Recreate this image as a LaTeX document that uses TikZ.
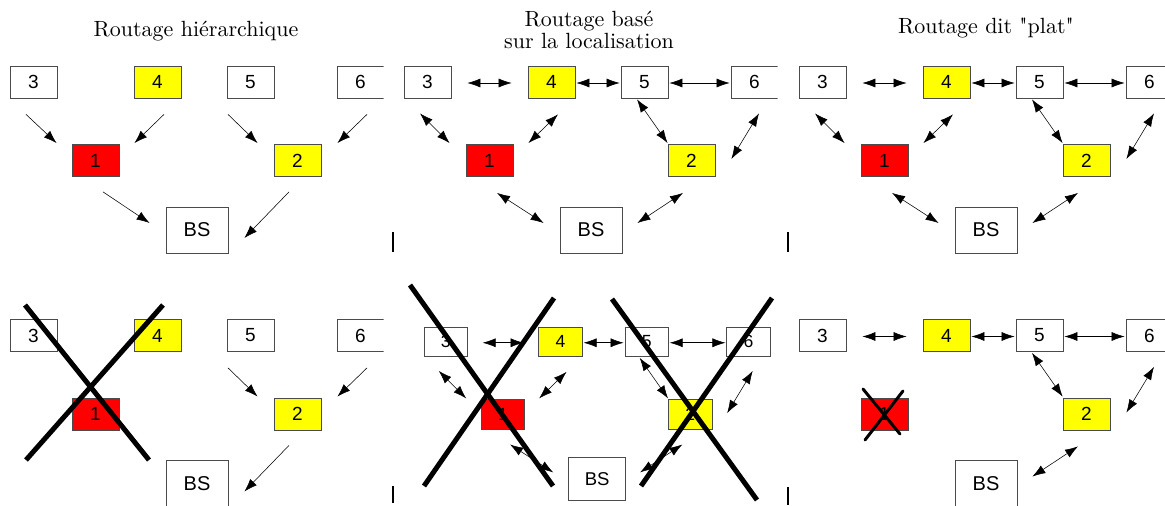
\documentclass[tikz,border=0pt]{standalone}
\usepackage{fontspec}
\newfontfamily\boxfont{Liberation Sans}
\newfontfamily\headfont{lmroman10-regular}[Extension=.otf]
\usetikzlibrary{arrows.meta,calc}

\definecolor{nodeyellow}{RGB}{255,255,0}
\definecolor{nodered}{RGB}{255,0,0}
\definecolor{boxedge}{RGB}{75,75,75}

\tikzset{
  box/.style={draw=boxedge, line width=0.8pt, minimum width=47pt, minimum height=32pt,
    inner sep=0pt, font=\boxfont\fontsize{19}{19}\selectfont},
  wbox/.style={box, fill=white},
  ybox/.style={box, fill=nodeyellow},
  rbox/.style={box, fill=nodered},
  bsbox/.style={box, fill=white, minimum width=62pt, minimum height=46pt,
    font=\boxfont\fontsize{20}{20}\selectfont},
  arr/.style={-{Latex[length=13pt,width=9pt]}, line width=0.55pt, draw=black},
  darr/.style={{Latex[length=13pt,width=9pt]}-{Latex[length=13pt,width=9pt]}, line width=0.55pt, draw=black},
  bigcross/.style={line width=5pt, black},
  smallcross/.style={line width=3pt, black, line cap=round},
  heading/.style={font=\headfont\fontsize{22}{22}\selectfont, anchor=base, inner sep=0pt},
  tick/.style={line width=2pt, black}
}

% the seven nodes of one network, named <prefix>-<label>
\newcommand\netnodes[1]{%
  \node[wbox] (#1-3) at (33.5,82) {3};
  \node[ybox] (#1-4) at (157.5,82) {4};
  \node[wbox] (#1-5) at (250.5,82) {5};
  \node[wbox] (#1-6) at (360.5,82) {6};
  \node[rbox] (#1-1) at (95.5,160.5) {1};
  \node[ybox] (#1-2) at (297.5,160.5) {2};
  \node[bsbox] (#1-bs) at (197,230) {BS};
}
% connector between two node anchors, each with a small offset
\newcommand\link[5]{\draw[#1] ($(#2)+(#3)$) -- ($(#4)+(#5)$);}

% hierarchical links
\newcommand\hierleft[1]{%
  \link{arr}{#1-3.south}{-7.5,16}{#1-1.north west}{-15,-1}
  \link{arr}{#1-4.south}{6.5,16}{#1-1.north east}{15,-1}
  \link{arr}{#1-1.south}{7.5,15}{#1-bs.west}{-16,-7}
}
\newcommand\hierright[1]{%
  \link{arr}{#1-5.south}{-22.5,16}{#1-2.north west}{-16,-1}
  \link{arr}{#1-6.south}{6.5,16}{#1-2.north east}{16,-1}
  \link{arr}{#1-2.south}{-8.5,15}{#1-bs.east}{16,8}
}
% flat links
\newcommand\flattop[1]{%
  \link{darr}{#1-3.east}{16,1}{#1-4.west}{-16,1}
  \link{darr}{#1-4.east}{1,1}{#1-5.west}{-1,1}
  \link{darr}{#1-5.east}{1,1}{#1-6.west}{-1,1}
}
\newcommand\flatleft[1]{%
  \link{darr}{#1-3.south}{-7.5,15}{#1-1.north west}{-16,-1}
  \link{darr}{#1-4.south}{6.5,16}{#1-1.north east}{15,-1}
  \link{darr}{#1-1.south}{7.5,16}{#1-bs.west}{-16,-7}
}
\newcommand\flatright[1]{%
  \link{darr}{#1-5.south}{-7.5,1}{#1-2.north west}{0,-1}
  \link{darr}{#1-6.south}{4.5,15}{#1-2.east}{16,-1.5}
  \link{darr}{#1-2.south}{-8.5,16}{#1-bs.east}{15,-7}
}

\begin{document}
\begin{tikzpicture}[x=1pt,y=-1pt]
\useasboundingbox (0,0) rectangle (1165,506);

% column headings
\node[heading] (h1) at (196,36) {Routage hiérarchique};
\node[heading, align=center] (h2) at (589,48) {Routage basé\\sur la localisation};
\node[heading] (h3) at (986,34) {Routage dit "plat"};

% top row: hierarchical
\begin{scope}
  \clip (0,0) rectangle (383.5,262);
  \netnodes{a}
  \hierleft{a}
  \hierright{a}
\end{scope}

% top row: location based
\begin{scope}[shift={(394,0)}]
  \clip (-2,0) rectangle (383.5,262);
  \netnodes{b}
  \flattop{b}
  \flatleft{b}
  \flatright{b}
\end{scope}

% top row: flat
\begin{scope}[shift={(789,0)}]
  \clip (-2,0) rectangle (376,262);
  \netnodes{c}
  \flattop{c}
  \flatleft{c}
  \flatright{c}
\end{scope}

% bottom row: hierarchical with node 1 down
\begin{scope}[shift={(0,253.5)}]
  \clip (0,0) rectangle (383.5,262);
  \netnodes{d}
  \hierright{d}
\end{scope}
\draw[bigcross] (25,305) -- (149,460);
\draw[bigcross] (163,305) -- (26,460);

% bottom row: location based, two regions down
\begin{scope}[shift={(414.7,265.9)}, scale=0.926, transform shape]
  \netnodes{e}
  \flattop{e}
  \flatleft{e}
  \flatright{e}
\end{scope}
\draw[bigcross] (410,285) -- (553,486);
\draw[bigcross] (554,298) -- (424,486);
\draw[bigcross] (612,299) -- (757,500);
\draw[bigcross] (772,298) -- (641,486);

% bottom row: flat with node 1 down
\begin{scope}[shift={(789,253.5)}]
  \clip (-2,0) rectangle (376,262);
  \netnodes{f}
  \flattop{f}
  \flatright{f}
\end{scope}
\draw[smallcross] (863,389) -- (900,434);
\draw[smallcross] (903,391) -- (865,440);

% tick marks at the foot of the panels
\draw[tick] (393,232) -- (393,252);
\draw[tick] (788,232) -- (788,252);
\draw[tick] (393,486) -- (393,503);
\draw[tick] (788,487) -- (788,505);
\end{tikzpicture}
\end{document}
